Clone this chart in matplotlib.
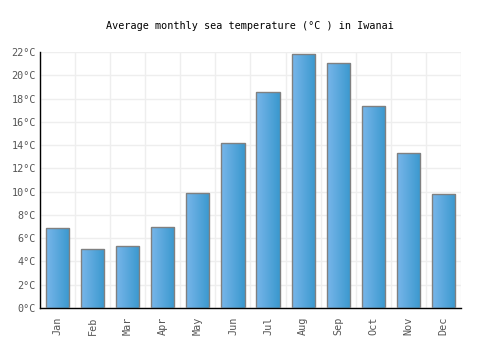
import matplotlib
matplotlib.use('Agg')
import matplotlib.pyplot as plt
import numpy as np
from matplotlib.colors import LinearSegmentedColormap

# 数据
months = ['Jan', 'Feb', 'Mar', 'Apr', 'May', 'Jun',
          'Jul', 'Aug', 'Sep', 'Oct', 'Nov', 'Dec']
temps = [6.9, 5.1, 5.3, 7.0, 9.9, 14.2, 18.6, 21.8, 21.1, 17.4, 13.3, 9.8]
yticks = np.arange(0, 23, 2)

plt.rcParams['font.family'] = ['DejaVu Sans Mono']

fig = plt.figure(figsize=(5, 3.5), dpi=100)
ax = fig.add_axes([0.08, 0.12, 0.842, 0.731])

x = np.arange(len(months))
bars = ax.bar(x, temps, width=0.66, color='none', edgecolor='#808080',
              linewidth=1, zorder=3)

# 渐变填充
cmap = LinearSegmentedColormap.from_list('blu', ['#78b6ea', '#3a98ce'])
grad = np.linspace(0, 1, 64).reshape(1, -1)
for b in bars:
    x0, w, h = b.get_x(), b.get_width(), b.get_height()
    im = ax.imshow(grad, extent=[x0, x0 + w, 0, h], aspect='auto',
                   cmap=cmap, zorder=2)
    im.set_clip_path(b)

ax.set_xlim(-0.5, len(months) - 0.5)
ax.set_ylim(0, 22)
ax.set_xticks(x)
ax.set_xticklabels(months, rotation=90)
ax.set_xticks(np.arange(-0.5, len(months), 1), minor=True)
ax.set_yticks(yticks)
ax.set_yticklabels([f'{v}°C' for v in yticks])

ax.grid(True, which='minor', axis='x', color='#eeeeee', linewidth=1, zorder=0)
ax.grid(True, which='major', axis='y', color='#eeeeee', linewidth=1, zorder=0)
ax.tick_params(axis='both', which='both', length=0, labelsize=7.3,
               labelcolor='#555555')
ax.tick_params(axis='x', pad=6)
ax.tick_params(axis='y', pad=3)

for s in ['top', 'right']:
    ax.spines[s].set_visible(False)
for s in ['left', 'bottom']:
    ax.spines[s].set_color('black')
    ax.spines[s].set_linewidth(1)
ax.set_axisbelow(True)

fig.text(0.5, 0.925, 'Average monthly sea temperature (°C ) in Iwanai',
         ha='center', va='center', fontsize=7.3)

fig.savefig('out.png', dpi=100)
